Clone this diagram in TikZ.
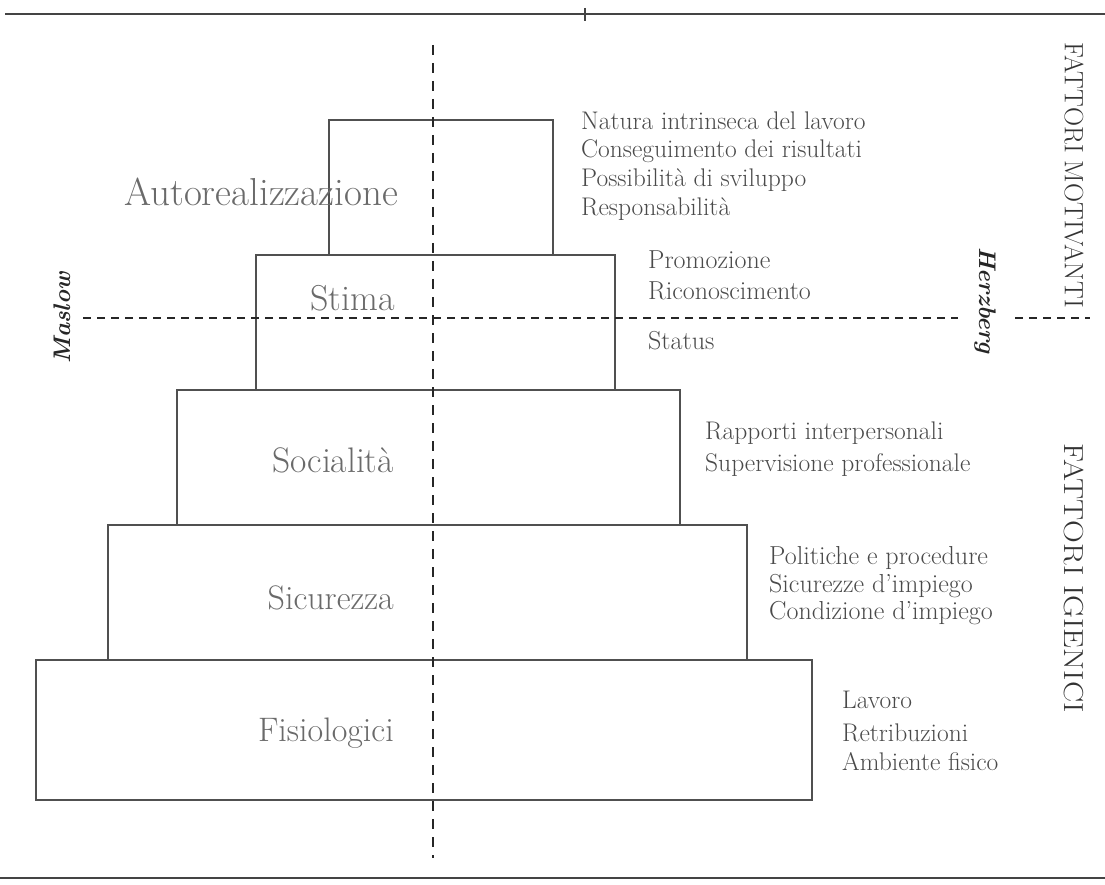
\documentclass[tikz,border=0pt]{standalone}
\definecolor{boxgray}{HTML}{505050}
\definecolor{lblgray}{HTML}{6A6A6A}
\definecolor{lstgray}{HTML}{4A4A4A}
\definecolor{rulegray}{HTML}{444444}
\begin{document}
\begin{tikzpicture}[x=1pt,y=-1pt,
  box/.style={draw=boxgray, line width=1.3pt, inner sep=0pt},
  lbl/.style={text=lblgray, font=\fontsize{#1}{40}\selectfont, inner sep=0pt, anchor=east},
  lst/.style={text=lstgray, font=\fontsize{#1}{24}\selectfont, inner sep=0pt, anchor=west, text height=0.7em, text depth=0.25em},
  dashln/.style={draw=black!85, line width=2.2pt, dash pattern=on 8pt off 6pt},
  vdashln/.style={draw=black!85, line width=2pt, dash pattern=on 10pt off 8pt},
  rulel/.style={draw=rulegray, line width=2pt},
  side/.style={text=black!80, font=\fontsize{#1}{30}\selectfont, inner sep=0pt, rotate=-90},
  author/.style={text=black!85, font=\fontsize{24}{28}\selectfont\bfseries\itshape, inner sep=0pt}]
\useasboundingbox (0,0) rectangle (1105,885);
% rules
\coordinate (tl) at (5,14);
\coordinate (tr) at (1105,14);
\coordinate (tk1) at (585,8);
\coordinate (tk2) at (585,21);
\coordinate (bl) at (0,878);
\coordinate (br) at (1105,878);
\draw[rulel] (tl) -- (tr);
\draw[rulel] (tk1) -- (tk2);
\draw[rulel] (bl) -- (br);
% boxes
\node[box, minimum width=224pt, minimum height=135pt] (b5) at (441,187.5) {};
\node[box, minimum width=359pt, minimum height=135pt] (b4) at (435.5,322.5) {};
\node[box, minimum width=503pt, minimum height=135pt] (b3) at (428.5,457.5) {};
\node[box, minimum width=639pt, minimum height=135pt] (b2) at (427.5,592.5) {};
\node[box, minimum width=776pt, minimum height=140pt] (b1) at (424,730) {};
% labels
\node[lbl=39] (l5) at (398,192) {Autorealizzazione};
\node[lbl=36] (l4) at (395,298) {Stima};
\node[lbl=35.5] (l3) at (394,460) {Socialità};
\node[lbl=34] (l2) at (394,598) {Sicurezza};
\node[lbl=34] (l1) at (394,733) {Fisiologici};
% dashed axes
\coordinate (vt) at (433,45);
\coordinate (vb) at (433,858);
\draw[vdashln] (vt) -- (vb);
\coordinate (hl) at (83,318);
\coordinate (hm) at (958,318);
\coordinate (hn) at (1015,318);
\coordinate (hr) at (1090,318);
\draw[dashln] (hl) -- (hm);
\draw[dashln] (hn) -- (hr);
% authors
\node[author, rotate=90] (maslow) at (62,318) {Maslow};
\node[author, rotate=-90] (herz) at (985,300) {Herzberg};
% side labels
\node[side=26.5] (fm) at (1074,175) {FATTORI MOTIVANTI};
\node[side=27.5] (fi) at (1074,578) {\scalebox{1.15}[1]{FATTORI IGIENICI}};
% lists
\node[lst=25.5] (a1) at (581,127) {Natura intrinseca del lavoro};
\node[lst=25.5] (a2) at (581,155) {Conseguimento dei risultati};
\node[lst=25.5] (a3) at (581,184) {Possibilità di sviluppo};
\node[lst=25.5] (a4) at (581,213) {Responsabilità};
\node[lst=26] (s1) at (648,266) {Promozione};
\node[lst=26] (s2) at (648,297) {Riconoscimento};
\node[lst=26] (s3) at (648,347) {Status};
\node[lst=25.5] (c1) at (705,437) {Rapporti interpersonali};
\node[lst=25.5] (c2) at (705,469) {Supervisione professionale};
\node[lst=26] (r1) at (769,562) {Politiche e procedure};
\node[lst=26] (r2) at (769,590) {Sicurezze d'impiego};
\node[lst=26] (r3) at (769,617) {Condizione d'impiego};
\node[lst=25.5] (f1) at (842,706) {Lavoro};
\node[lst=25.5] (f2) at (842,739) {Retribuzioni};
\node[lst=25.5] (f3) at (842,768) {Ambiente fisico};
\end{tikzpicture}
\end{document}
